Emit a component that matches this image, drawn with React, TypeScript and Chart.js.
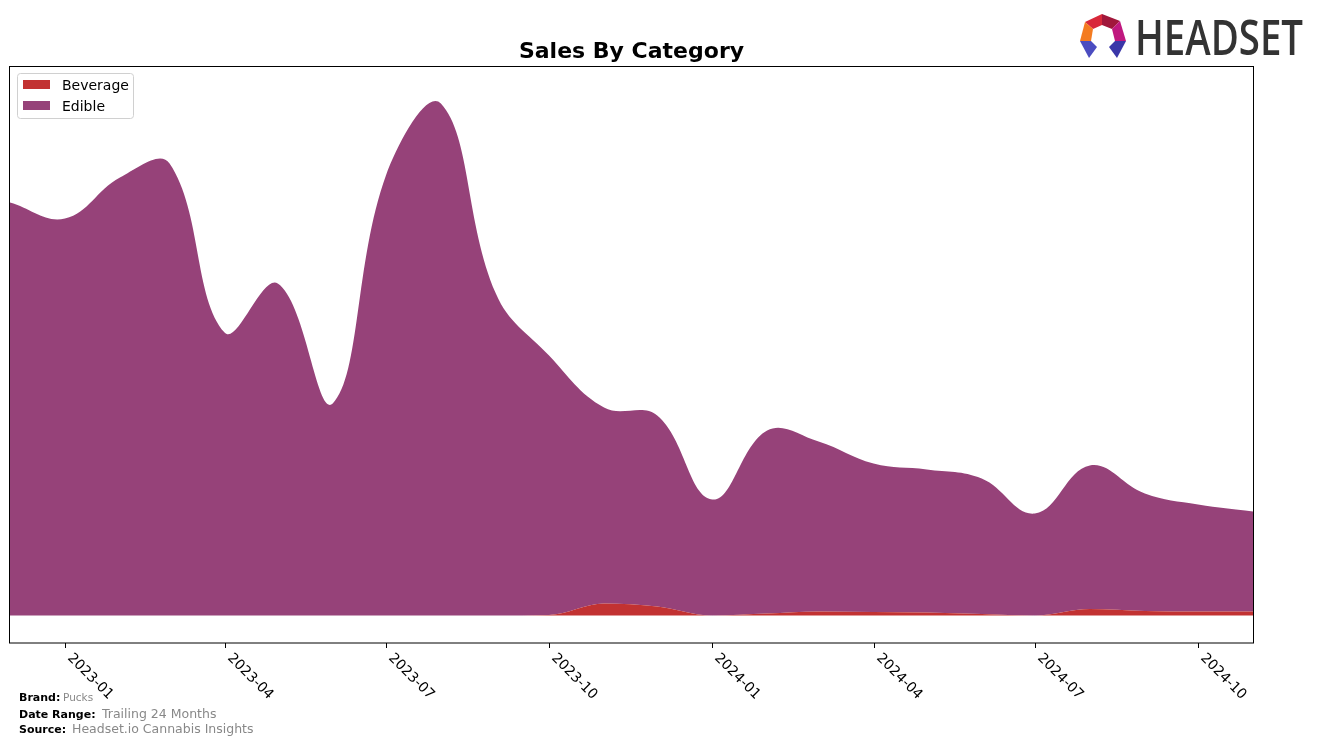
import React, { useEffect, useRef } from 'react';
import { Chart, registerables } from 'chart.js';

Chart.register(...registerables);

const months = [
  '2022-12', '2023-01', '2023-02', '2023-03', '2023-04', '2023-05', '2023-06', '2023-07',
  '2023-08', '2023-09', '2023-10', '2023-11', '2023-12', '2024-01', '2024-02', '2024-03',
  '2024-04', '2024-05', '2024-06', '2024-07', '2024-08', '2024-09', '2024-10', '2024-11',
];
const beverage = [0, 0, 0, 0, 0, 0, 0, 0, 0, 0, 50, 1200, 900, 0, 200, 400, 350, 300, 150, 0, 650, 450, 400, 400];
const edible = [
  41300, 39700, 43800, 45200, 28300, 33200, 21200, 44000, 51200, 32200, 25950, 19600,
  19100, 11600, 18300, 17000, 14850, 14300, 13550, 10200, 14350, 11750, 10700, 10000,
];
const tickLabels = ['2023-01', '2023-04', '2023-07', '2023-10', '2024-01', '2024-04', '2024-07', '2024-10'];
const seriesNames = ['Beverage', 'Edible'];
const seriesColors = ['#c23232', '#964279'];
const yMin = -2750;
const yMax = 54950;

const dayOf = (m: string) => {
  const [y, mo] = m.split('-').map(Number);
  return (Date.UTC(y, mo - 1, 1) - Date.UTC(2022, 11, 1)) / 86400000;
};

const decorPlugin = {
  id: 'decor',
  afterDraw(chart: any) {
    const ctx = chart.ctx as CanvasRenderingContext2D;
    const area = chart.chartArea;
    const xs = chart.scales.x;
    ctx.save();
    // frame
    ctx.strokeStyle = '#000';
    ctx.lineWidth = 1;
    ctx.strokeRect(Math.round(area.left) - 0.5, Math.round(area.top) + 0.5, Math.round(area.right - area.left) + 1, Math.round(area.bottom - area.top) - 0.5);
    // ticks + labels
    ctx.fillStyle = '#000';
    ctx.font = '14px "DejaVu Sans"';
    ctx.textAlign = 'left';
    ctx.textBaseline = 'top';
    tickLabels.forEach((t) => {
      const x = Math.round(xs.getPixelForValue(dayOf(t))) + 0.5;
      ctx.beginPath();
      ctx.moveTo(x, area.bottom);
      ctx.lineTo(x, area.bottom + 5);
      ctx.stroke();
      ctx.save();
      ctx.translate(x + 9, area.bottom + 8);
      ctx.rotate(Math.PI / 4);
      ctx.fillText(t, 0, 0);
      ctx.restore();
    });
    // title
    ctx.textAlign = 'center';
    ctx.textBaseline = 'alphabetic';
    ctx.font = 'bold 22px "DejaVu Sans"';
    ctx.fillText('Sales By Category', (area.left + area.right) / 2, 58);
    // legend
    ctx.beginPath();
    (ctx as any).roundRect(17.5, 73.5, 116, 45, 3);
    ctx.fillStyle = 'rgba(255,255,255,0.8)';
    ctx.fill();
    ctx.strokeStyle = '#d0d0d0';
    ctx.stroke();
    ctx.textAlign = 'left';
    ctx.font = '14px "DejaVu Sans"';
    seriesNames.forEach((n, i) => {
      ctx.fillStyle = seriesColors[i];
      ctx.fillRect(23, 80 + i * 21, 27, 9);
      ctx.fillStyle = '#000';
      ctx.fillText(n, 62, 90 + i * 21);
    });
    // footer
    const footer = [
      ['Brand:', 'Pucks', 701, '10.5px', 63],
      ['Date Range:', 'Trailing 24 Months', 718, '12.5px', 102],
      ['Source:', 'Headset.io Cannabis Insights', 733, '12.5px', 72],
    ] as const;
    footer.forEach(([k, v, y, fs, vx]) => {
      ctx.fillStyle = '#000';
      ctx.font = 'bold 11px "DejaVu Sans"';
      ctx.fillText(k, 19, y);
      ctx.fillStyle = '#888';
      ctx.font = `${fs} "DejaVu Sans"`;
      ctx.fillText(v, vx, y);
    });
    // logo text
    ctx.fillStyle = '#333';
    ctx.font = '600 48px "Open Sans"';
    const w = ctx.measureText('HEADSET').width;
    ctx.save();
    ctx.translate(1135, 55);
    ctx.scale(168 / w, 1);
    ctx.fillText('HEADSET', 0, 0);
    ctx.restore();
    // logo icon
    const poly = (pts: number[][], c: string) => {
      ctx.beginPath();
      pts.forEach(([px, py], j) => (j ? ctx.lineTo(px, py) : ctx.moveTo(px, py)));
      ctx.closePath();
      ctx.fillStyle = c;
      ctx.fill();
    };
    poly([[1085, 22], [1102, 14], [1102, 25], [1093, 29]], '#d8283a');
    poly([[1102, 14], [1120, 21], [1112, 29], [1102, 25]], '#a1173b');
    poly([[1120, 21], [1126, 41], [1115, 41], [1112, 29]], '#c0187f');
    poly([[1085, 22], [1093, 29], [1091, 41], [1080, 41]], '#f47b20');
    poly([[1080, 41], [1091, 41], [1097, 47], [1089, 58]], '#4b4cc0');
    poly([[1115, 41], [1126, 41], [1117, 58], [1109, 47]], '#3a36a8');
    ctx.restore();
  },
};

export default function App() {
  const ref = useRef<HTMLCanvasElement | null>(null);
  useEffect(() => {
    document.body.style.margin = '0';
    const xs = months.map(dayOf);
    const chart = new Chart(ref.current as HTMLCanvasElement, {
      type: 'line',
      data: {
        datasets: [
          {
            label: seriesNames[0],
            data: beverage.map((v, i) => ({ x: xs[i], y: v })),
            backgroundColor: seriesColors[0],
            borderColor: 'rgba(0,0,0,0)',
            borderWidth: 0,
            fill: 'origin',
            cubicInterpolationMode: 'monotone',
            pointRadius: 0,
          },
          {
            label: seriesNames[1],
            data: edible.map((v, i) => ({ x: xs[i], y: v })),
            backgroundColor: seriesColors[1],
            borderColor: 'rgba(0,0,0,0)',
            borderWidth: 0,
            fill: '-1',
            tension: 0.4,
            pointRadius: 0,
          },
        ],
      },
      options: {
        animation: false,
        responsive: false,
        maintainAspectRatio: false,
        layout: { padding: { left: 10, right: 64, top: 66, bottom: 102 } },
        plugins: { legend: { display: false }, title: { display: false }, tooltip: { enabled: false } },
        scales: {
          x: { type: 'linear', display: false, min: 0, max: dayOf(months[months.length - 1]) },
          y: { display: false, stacked: true, min: yMin, max: yMax },
        },
      },
      plugins: [decorPlugin],
    } as any);
    return () => chart.destroy();
  }, []);
  return (
    <div style={{ width: 1317, height: 745, position: 'relative' }}>
      <canvas ref={ref} width={1317} height={745} style={{ display: 'block' }} />
    </div>
  );
}
